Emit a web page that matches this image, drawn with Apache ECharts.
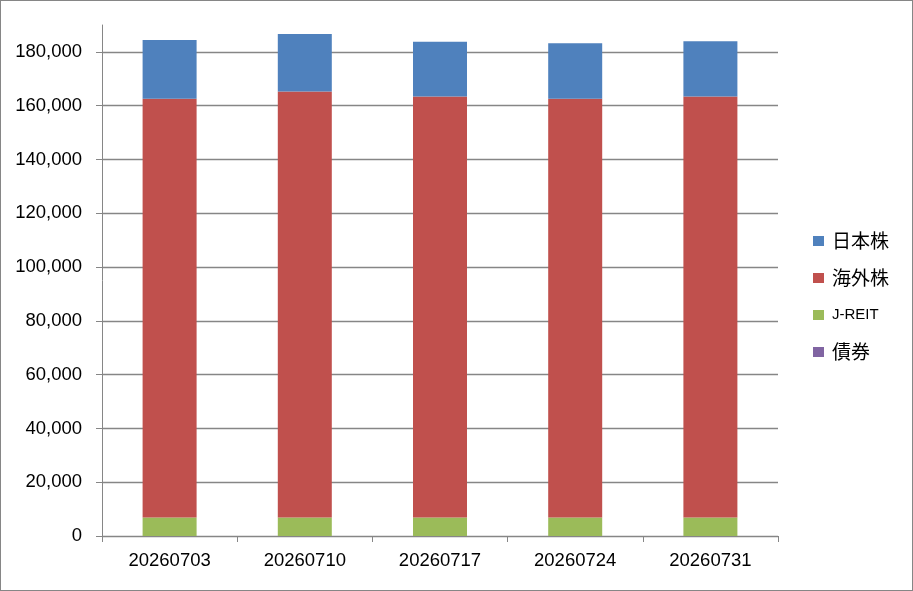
<!DOCTYPE html>
<html><head><meta charset="utf-8">
<script src="https://cdn.jsdelivr.net/npm/echarts@6/dist/echarts.min.js"></script>
<style>html,body{margin:0;padding:0;background:#fff}#c{width:913px;height:591px;box-sizing:border-box;border:1px solid #868686}</style>
</head><body><div id="c"></div>
<script>
const categories = ['20260703','20260710','20260717','20260724','20260731'];
const bonds = [0,0,0,0,0];
const jreit = [6900,6900,6900,6900,6900];
const foreignStocks = [155700,158350,156500,155700,156500];
const japanStocks = [21800,21400,20400,20600,20600];
const yTickValues = [0,20000,40000,60000,80000,100000,120000,140000,160000,180000];
const yAxisMax = 190000;

const chart = echarts.init(document.getElementById('c'));
const font = '"Liberation Sans","Noto Sans CJK JP",sans-serif';
const splitColors = yTickValues.map(() => '#868686').concat(['rgba(0,0,0,0)']);
function mk(name, data, color){
  return {name, type:'bar', stack:'s', data, barWidth:54, itemStyle:{color}};
}
chart.setOption({
  animation:false,
  textStyle:{fontFamily:font},
  grid:{left:101,right:134,top:24,bottom:54,containLabel:false},
  legend:{orient:'vertical', left:812, top:230, padding:0, itemWidth:11, itemHeight:10, itemGap:17, icon:'rect',
    formatter: n => /^[A-Za-z]/.test(n) ? '{a|' + n + '}' : '{j|' + n + '}',
    textStyle:{color:'#000', fontFamily:'"Noto Sans CJK JP",sans-serif', height:20, lineHeight:20,
      rich:{
        a:{fontSize:15, height:20, lineHeight:20, padding:[0,0,0,3], fontFamily:'"Liberation Sans",sans-serif', color:'#000'},
        j:{fontSize:19, height:20, lineHeight:20, padding:[0,0,0,3], fontFamily:'"Noto Sans CJK JP",sans-serif', color:'#000'}
      }},
    data:['日本株','海外株','J-REIT','債券']},
  xAxis:{type:'category', data:categories, boundaryGap:true,
    axisLine:{lineStyle:{color:'#868686',width:1}},
    axisTick:{show:true, alignWithLabel:false, length:6, lineStyle:{color:'#868686'}},
    axisLabel:{fontSize:18.5, color:'#000', margin:16, fontFamily:font}},
  yAxis:{type:'value', min:0, max:yAxisMax, interval:20000,
    axisLine:{show:true, lineStyle:{color:'#868686'}},
    axisTick:{show:true, length:6, customValues:yTickValues, lineStyle:{color:'#868686'}},
    splitLine:{show:true, lineStyle:{color:splitColors, width:1.3}},
    axisLabel:{fontSize:18.5, color:'#000', margin:20, fontFamily:font,
      formatter:v => v > 180000 ? '' : v.toLocaleString('en-US')}},
  series:[
    mk('債券', bonds, '#8064A2'),
    mk('J-REIT', jreit, '#9BBB59'),
    mk('海外株', foreignStocks, '#C0504D'),
    mk('日本株', japanStocks, '#4F81BD')
  ]
});
</script></body></html>
